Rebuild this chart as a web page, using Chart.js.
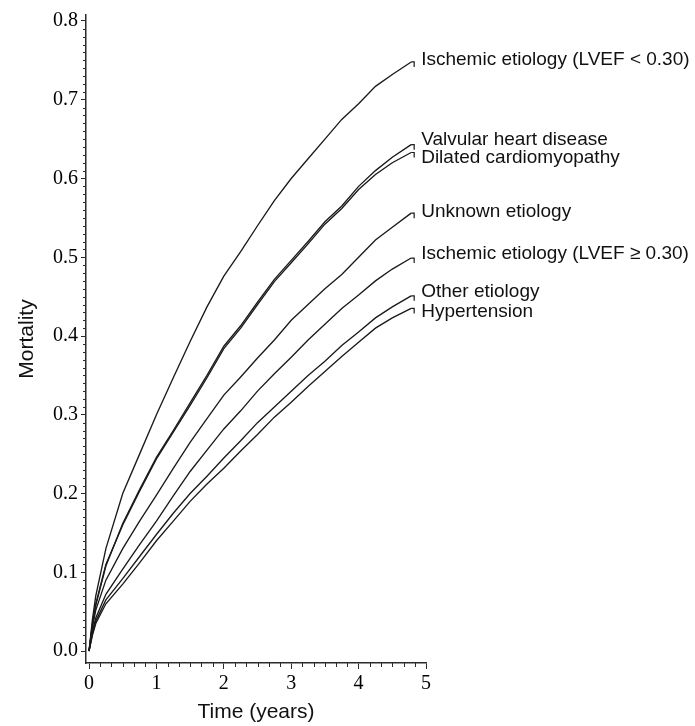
<!DOCTYPE html>
<html>
<head>
<meta charset="utf-8">
<script src="https://cdn.jsdelivr.net/npm/chart.js@4.4.1/dist/chart.umd.min.js"></script>
<style>
    html, body { margin: 0; padding: 0; background: #fff; }
    #wrap { width: 695px; height: 726px; }
</style>
</head>
<body>
<div id="wrap"><canvas id="mortalityChart" width="695" height="726"></canvas></div>
<script>
// Time points (years)
const years = [0, 0.05, 0.1, 0.25, 0.5, 0.75, 1, 1.25, 1.5, 1.75, 2, 2.25, 2.5, 2.75, 3, 3.25, 3.5, 3.75, 4, 4.25, 4.5, 4.78];

const ischemicLow  = [0, 0.040, 0.070, 0.130, 0.200, 0.250, 0.300, 0.347, 0.393, 0.437, 0.476, 0.507, 0.540, 0.572, 0.600, 0.625, 0.650, 0.675, 0.695, 0.717, 0.732, 0.748];
const valvular     = [0, 0.033, 0.058, 0.108, 0.162, 0.205, 0.246, 0.280, 0.315, 0.350, 0.387, 0.413, 0.443, 0.472, 0.496, 0.520, 0.545, 0.565, 0.590, 0.610, 0.627, 0.643];
const dilated      = [0, 0.034, 0.060, 0.110, 0.160, 0.203, 0.244, 0.278, 0.312, 0.347, 0.384, 0.410, 0.440, 0.469, 0.493, 0.517, 0.542, 0.562, 0.586, 0.605, 0.620, 0.633];
const unknown      = [0, 0.030, 0.052, 0.090, 0.130, 0.165, 0.198, 0.232, 0.265, 0.295, 0.325, 0.348, 0.372, 0.395, 0.420, 0.440, 0.460, 0.478, 0.500, 0.522, 0.538, 0.556];
const ischemicHigh = [0, 0.025, 0.042, 0.072, 0.104, 0.135, 0.165, 0.197, 0.228, 0.255, 0.282, 0.305, 0.330, 0.352, 0.373, 0.395, 0.415, 0.435, 0.452, 0.470, 0.485, 0.499];
const otherEtiol   = [0, 0.022, 0.038, 0.065, 0.092, 0.120, 0.148, 0.175, 0.200, 0.222, 0.245, 0.267, 0.290, 0.310, 0.330, 0.350, 0.368, 0.388, 0.405, 0.423, 0.437, 0.451];
const hypertension = [0, 0.020, 0.035, 0.060, 0.085, 0.112, 0.140, 0.165, 0.190, 0.212, 0.232, 0.254, 0.275, 0.297, 0.316, 0.336, 0.355, 0.374, 0.392, 0.410, 0.423, 0.435];

const seriesNames = [
    'Ischemic etiology (LVEF < 0.30)',
    'Valvular heart disease',
    'Dilated cardiomyopathy',
    'Unknown etiology',
    'Ischemic etiology (LVEF \u2265 0.30)',
    'Other etiology',
    'Hypertension'
];
const seriesValues = [ischemicLow, valvular, dilated, unknown, ischemicHigh, otherEtiol, hypertension];

const yTicks = [0, 0.1, 0.2, 0.3, 0.4, 0.5, 0.6, 0.7, 0.8];
const xTicks = [0, 1, 2, 3, 4, 5];

// where the names sit (mortality units), a bit apart where curves overlap
const labelLevels = [0.751, 0.649, 0.626, 0.558, 0.505, 0.456, 0.431];

const lineColor = '#1a1a1a';
const axisColor = '#2a2a2a';
const serifFont = "'Liberation Serif', 'Times New Roman', serif";
const sansFont = "'Liberation Sans', Arial, sans-serif";

// minor ticks + censoring marks + curve names
const decorPlugin =
{
    id: 'decor',
    afterDraw(chart)
    {
        const ctx = chart.ctx;
        const xs = chart.scales.x;
        const ys = chart.scales.y;
        const area = chart.chartArea;

        ctx.save();
        ctx.strokeStyle = axisColor;
        ctx.lineWidth = 1;

        // y minor ticks every 0.01
        for (let i = 0; i <= 80; i++)
        {
            if (i % 10 === 0) continue;
            const py = Math.round(ys.getPixelForValue(i / 100)) + 0.5;
            ctx.beginPath();
            ctx.moveTo(area.left - 3, py);
            ctx.lineTo(area.left, py);
            ctx.stroke();
        }

        // x minor ticks every 2 months
        for (let i = 0; i <= 30; i++)
        {
            if (i % 6 === 0) continue;
            const px = Math.round(xs.getPixelForValue(i / 6)) + 0.5;
            ctx.beginPath();
            ctx.moveTo(px, area.bottom);
            ctx.lineTo(px, area.bottom + 4);
            ctx.stroke();
        }

        // end marks and names
        ctx.strokeStyle = lineColor;
        ctx.lineWidth = 1.2;
        ctx.fillStyle = '#111';
        ctx.font = '19px ' + sansFont;
        ctx.textBaseline = 'middle';
        ctx.textAlign = 'left';

        seriesValues.forEach((vals, i) =>
        {
            const last = vals.length - 1;
            const px = xs.getPixelForValue(years[last]);
            const py = ys.getPixelForValue(vals[last]);

            ctx.beginPath();
            ctx.moveTo(px, py);
            ctx.lineTo(px + 3, py);
            ctx.lineTo(px + 3, py + 5);
            ctx.stroke();

            ctx.fillText(seriesNames[i], px + 10, ys.getPixelForValue(labelLevels[i]));
        });

        ctx.restore();
    }
};

const datasets = seriesValues.map((vals, i) =>
({
    label: seriesNames[i],
    data: years.map((t, j) => ({ x: t, y: vals[j] })),
    borderColor: lineColor,
    borderWidth: 1.35,
    pointRadius: 0,
    tension: 0,
    fill: false
}));

new Chart(document.getElementById('mortalityChart'),
{
    type: 'line',
    data: { datasets: datasets },
    options:
    {
        responsive: false,
        animation: false,
        devicePixelRatio: 1,
        layout: { padding: { left: 0, right: 269, top: 13, bottom: 0 } },
        plugins:
        {
            legend: { display: false },
            tooltip: { enabled: false }
        },
        scales:
        {
            x:
            {
                type: 'linear',
                min: -0.045,
                max: 5,
                afterBuildTicks: (s) => { s.ticks = xTicks.map(v => ({ value: v })); },
                afterFit: (s) => { s.height = 63; },
                ticks:
                {
                    autoSkip: false,
                    maxRotation: 0,
                    padding: 3,
                    color: '#000',
                    font: { family: serifFont, size: 20 },
                    callback: (v) => String(v)
                },
                grid: { drawOnChartArea: false, tickLength: 6, color: axisColor, tickWidth: 1 },
                border: { color: axisColor, width: 1.5 },
                title:
                {
                    display: true,
                    text: 'Time (years)',
                    color: '#111',
                    font: { family: sansFont, size: 21 },
                    padding: { top: 0, bottom: 1 }
                }
            },
            y:
            {
                type: 'linear',
                min: -0.0152,
                max: 0.8076,
                afterBuildTicks: (s) => { s.ticks = yTicks.map(v => ({ value: v })); },
                afterFit: (s) => { s.width = 86; },
                ticks:
                {
                    padding: 3,
                    color: '#000',
                    font: { family: serifFont, size: 20 },
                    callback: (v) => v.toFixed(1)
                },
                grid: { drawOnChartArea: false, tickLength: 5, color: axisColor, tickWidth: 1 },
                border: { color: axisColor, width: 1.5 },
                title:
                {
                    display: true,
                    text: 'Mortality',
                    color: '#111',
                    font: { family: sansFont, size: 21 },
                    padding: { top: 15, bottom: 0 }
                }
            }
        }
    },
    plugins: [decorPlugin]
});
</script>
</body>
</html>
